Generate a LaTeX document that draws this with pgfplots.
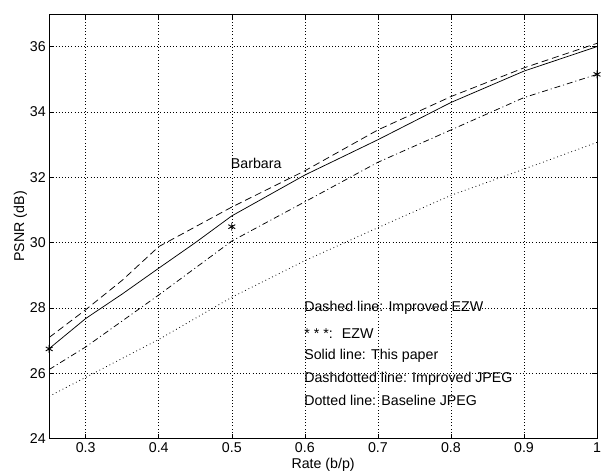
\documentclass[border=0pt]{standalone}
\usepackage{fontspec}
\setmainfont{Liberation Sans}
\usepackage{pgfplots}
\pgfplotsset{compat=1.18}
\begin{document}
\begin{tikzpicture}
\begin{axis}[name=ax, scale only axis, width=551.5pt, height=427.7pt,
  xmin=0.25, xmax=1, ymin=24, ymax=37,
  xtick={0.3,0.4,0.5,0.6,0.7,0.8,0.9,1},
  xticklabels={0.3,0.4,0.5,0.6,0.7,0.8,0.9,1},
  ytick={24,26,28,30,32,34,36},
  yticklabels={24,26,28,30,32,34,36},
  grid=major, major grid style={black, line width=0.6pt, dash pattern=on 0.6pt off 2.6pt},
  tick align=inside, major tick length=5pt, tick style={black, line width=0.6pt},
  axis line style={line width=0.8pt},
  tick label style={font=\fontsize{14.3}{16}\selectfont},
  label style={font=\fontsize{14.3}{16}\selectfont},
  xlabel={Rate (b/p)}, ylabel={PSNR (dB)},
  ylabel style={yshift=-4pt},
  xlabel style={yshift=1pt},
  /pgf/number format/assume math mode=true,
  clip=false,
]
% Dashed: Improved EZW
\addplot[black, line width=0.75pt, dash pattern=on 7pt off 4pt] coordinates {
(0.25,27.10) (0.3,27.95) (0.35,28.85) (0.4,29.88) (0.5,31.09) (0.6,32.20) (0.7,33.45) (0.8,34.47) (0.9,35.35) (1,36.10)};
% Solid: This paper
\addplot[black, line width=0.75pt] coordinates {
(0.25,26.76) (0.3,27.68) (0.35,28.43) (0.4,29.22) (0.45,30.00) (0.5,30.82) (0.6,32.07) (0.7,33.15) (0.8,34.29) (0.9,35.25) (1,36.00)};
% Dashdotted: Improved JPEG
\addplot[black, line width=0.75pt, dash pattern=on 6pt off 3pt on 1pt off 3pt] coordinates {
(0.25,26.12) (0.3,26.81) (0.4,28.40) (0.5,30.05) (0.6,31.25) (0.7,32.46) (0.8,33.45) (0.9,34.44) (1,35.15)};
% Dotted: Baseline JPEG
\addplot[black, line width=0.8pt, dash pattern=on 0.8pt off 3pt] coordinates {
(0.25,25.30) (0.3,25.88) (0.4,27.04) (0.5,28.33) (0.6,29.45) (0.7,30.46) (0.8,31.45) (0.9,32.25) (1,33.07)};
% EZW stars
\addplot[black, only marks, mark=asterisk, mark size=4pt, line width=0.9pt] coordinates {
(0.25,26.75) (0.5,30.49) (1,35.15)};
\node[anchor=west, inner sep=0pt, font=\fontsize{14.3}{16}\selectfont] at (axis cs:0.4986,32.42) {Barbara};
\node[anchor=west, inner sep=0pt, font=\fontsize{14.3}{16}\selectfont] at (axis cs:0.599,28.0) {Dashed line: Improved EZW};
\node[anchor=west, inner sep=0pt, font=\fontsize{14.3}{16}\selectfont] at (axis cs:0.599,27.22) {* * *:~ EZW};
\node[anchor=west, inner sep=0pt, font=\fontsize{14.3}{16}\selectfont] at (axis cs:0.599,26.53) {Solid line: This paper};
\node[anchor=west, inner sep=0pt, font=\fontsize{14.3}{16}\selectfont] at (axis cs:0.599,25.85) {Dashdotted line: Improved JPEG};
\node[anchor=west, inner sep=0pt, font=\fontsize{14.3}{16}\selectfont] at (axis cs:0.599,25.17) {Dotted line: Baseline JPEG};
\end{axis}
\pgfresetboundingbox
\path[use as bounding box] ([xshift=-49.5pt,yshift=-34.3pt]ax.south west) rectangle ([xshift=6pt,yshift=14pt]ax.north east);
\end{tikzpicture}
\end{document}
